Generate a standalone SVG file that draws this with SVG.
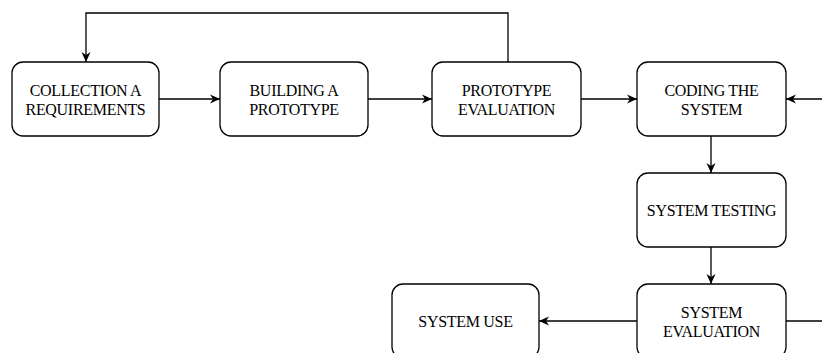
<svg xmlns="http://www.w3.org/2000/svg" width="822" height="353" viewBox="0 0 822 353">
<style>
.box{fill:#fff;stroke:#000;stroke-width:1.3}
.lbl{font-family:"Liberation Serif","Times New Roman",serif;font-size:16px;fill:#000;text-anchor:middle;letter-spacing:-0.3px}
.edge{fill:none;stroke:#000;stroke-width:1.3}
</style>
<defs>
<marker id="ah" viewBox="0 0 10 10" refX="10" refY="5" markerWidth="10" markerHeight="10" markerUnits="userSpaceOnUse" orient="auto">
<path d="M0,0.5 L10,5 L0,9.5 L3,5 Z" fill="#000"/>
</marker>
</defs>
<rect width="822" height="353" fill="#fff"/>
<g id="connectors">
<path class="edge" d="M508,62 V13 H86 V62" marker-end="url(#ah)"/>
<path class="edge" d="M159,99 H220" marker-end="url(#ah)"/>
<path class="edge" d="M368,99 H432" marker-end="url(#ah)"/>
<path class="edge" d="M581,99 H637" marker-end="url(#ah)"/>
<path class="edge" d="M822,99 H786" marker-end="url(#ah)"/>
<path class="edge" d="M711,136 V173" marker-end="url(#ah)"/>
<path class="edge" d="M711,247 V284" marker-end="url(#ah)"/>
<path class="edge" d="M637,321 H539" marker-end="url(#ah)"/>
<path class="edge" d="M786,321 H822"/>
</g>
<g id="n1"><rect class="box" x="12" y="62" width="147" height="74" rx="11"/>
<text class="lbl" x="85.5" y="95.5">COLLECTION A</text><text class="lbl" x="85.5" y="115">REQUIREMENTS</text></g>
<g id="n2"><rect class="box" x="220" y="62" width="148" height="74" rx="11"/>
<text class="lbl" x="294" y="95.5">BUILDING A</text><text class="lbl" x="294" y="115">PROTOTYPE</text></g>
<g id="n3"><rect class="box" x="432" y="62" width="149" height="74" rx="11"/>
<text class="lbl" x="506.5" y="95.5">PROTOTYPE</text><text class="lbl" x="506.5" y="115">EVALUATION</text></g>
<g id="n4"><rect class="box" x="637" y="62" width="149" height="74" rx="11"/>
<text class="lbl" x="711.5" y="95.5">CODING THE</text><text class="lbl" x="711.5" y="115">SYSTEM</text></g>
<g id="n5"><rect class="box" x="637" y="173" width="149" height="74" rx="11"/>
<text class="lbl" x="711.5" y="215.5">SYSTEM TESTING</text></g>
<g id="n6"><rect class="box" x="637" y="284" width="149" height="74" rx="11"/>
<text class="lbl" x="711.5" y="317.5">SYSTEM</text><text class="lbl" x="711.5" y="337">EVALUATION</text></g>
<g id="n7"><rect class="box" x="392" y="284" width="147" height="74" rx="11"/>
<text class="lbl" x="465.5" y="326.5">SYSTEM USE</text></g>
</svg>
